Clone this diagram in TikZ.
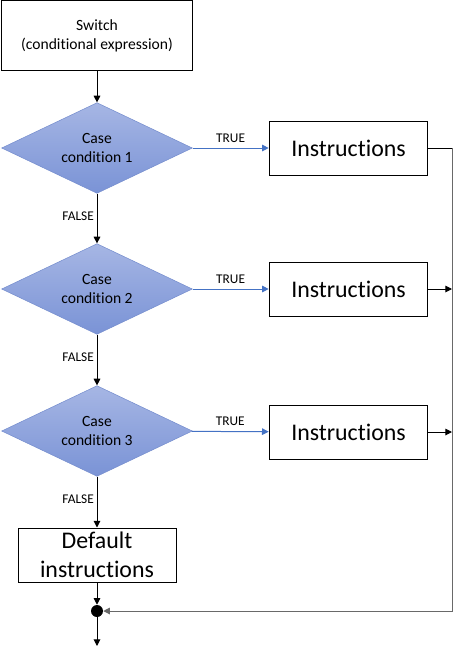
\documentclass[tikz,border=0pt]{standalone}
\usepackage{fontspec}
\setmainfont{Carlito}[Ligatures=NoCommon]
\usepackage{xcolor}
\usepackage{tikz}
\usetikzlibrary{arrows.meta,shapes.geometric}

\definecolor{condtop}{RGB}{166,182,228}
\definecolor{condbot}{RGB}{122,147,214}
\definecolor{condline}{RGB}{118,142,206}
\definecolor{truecol}{RGB}{68,114,196}
\definecolor{railcol}{RGB}{105,105,105}

\begin{document}
\begin{tikzpicture}[
          x=0.75pt, y=-0.75pt,
          every node/.style={font=\fontsize{11.7}{14.3}\selectfont},
          box/.style={draw, line width=0.75pt, align=center, minimum width=143pt, minimum height=52pt, inner sep=2pt},
          instr/.style={draw, line width=0.75pt, align=center, minimum width=119pt, minimum height=40.5pt, inner sep=2pt,
                        font=\fontsize{17.9}{21.5}\selectfont},
          cond/.style={diamond, draw=condline, top color=condtop, bottom color=condbot, align=center,
                       minimum width=143pt, minimum height=68pt, inner sep=0pt, shape aspect=2.1},
          junction/.style={circle, fill=black, minimum size=9pt, inner sep=0pt},
          arr/.style={-{Triangle[length=5pt,width=5pt]}, line width=0.75pt},
          tarr/.style={arr, draw=truecol, fill=truecol},
          lab/.style={font=\fontsize{10}{12}\selectfont, inner sep=2pt},
        ]
          \useasboundingbox (0,0) rectangle (460,658);

          %% left column — switch, cases, default
          \node[box]              (switch)  at (97, 35.5) {Switch\\(conditional expression)};
          \node[cond]             (case1)   at (97, 148)  {Case\\condition 1};
          \node[cond]             (case2)   at (97, 289)  {Case\\condition 2};
          \node[cond]             (case3)   at (97, 431)  {Case\\condition 3};
          \node[instr, minimum width=118.5pt] (default) at (97, 555) {Default\\instructions};
          \node[junction]         (join)    at (97, 611)  {};
          \coordinate             (out)     at (97, 646);

          %% right column — instructions
          \node[instr]            (instr1)  at (348.5, 148) {Instructions};
          \node[instr]            (instr2)  at (348.5, 289) {Instructions};
          \node[instr]            (instr3)  at (348.5, 432) {Instructions};
          \coordinate             (rail)    at (452, 148);

          %% main sequence
          \draw[arr] (switch) -- (case1);
          \draw[arr] (case1) -- node[lab,left,pos=0.45]{FALSE} (case2);
          \draw[arr] (case2) -- node[lab,left,pos=0.45]{FALSE} (case3);
          \draw[arr] (case3) -- node[lab,left,pos=0.45]{FALSE} (default);
          \draw[arr] (default) -- (join);
          \draw[arr] (join) -- (out);

          %% TRUE branches
          \draw[tarr] (case1) -- node[lab,above,yshift=2pt]{TRUE} (instr1);
          \draw[tarr] (case2) -- node[lab,above,yshift=2pt]{TRUE} (instr2);
          \draw[tarr] (case3) -- node[lab,above,yshift=2pt]{TRUE} (instr3);

          %% return rail on the right
          \draw[line width=0.75pt] (instr1.east) -- (rail);
          \draw[arr, draw=railcol] (rail) |- (join);
          \draw[arr] (instr2.east) -- (instr2.east -| rail);
          \draw[arr] (instr3.east) -- (instr3.east -| rail);
        \end{tikzpicture}
\end{document}
